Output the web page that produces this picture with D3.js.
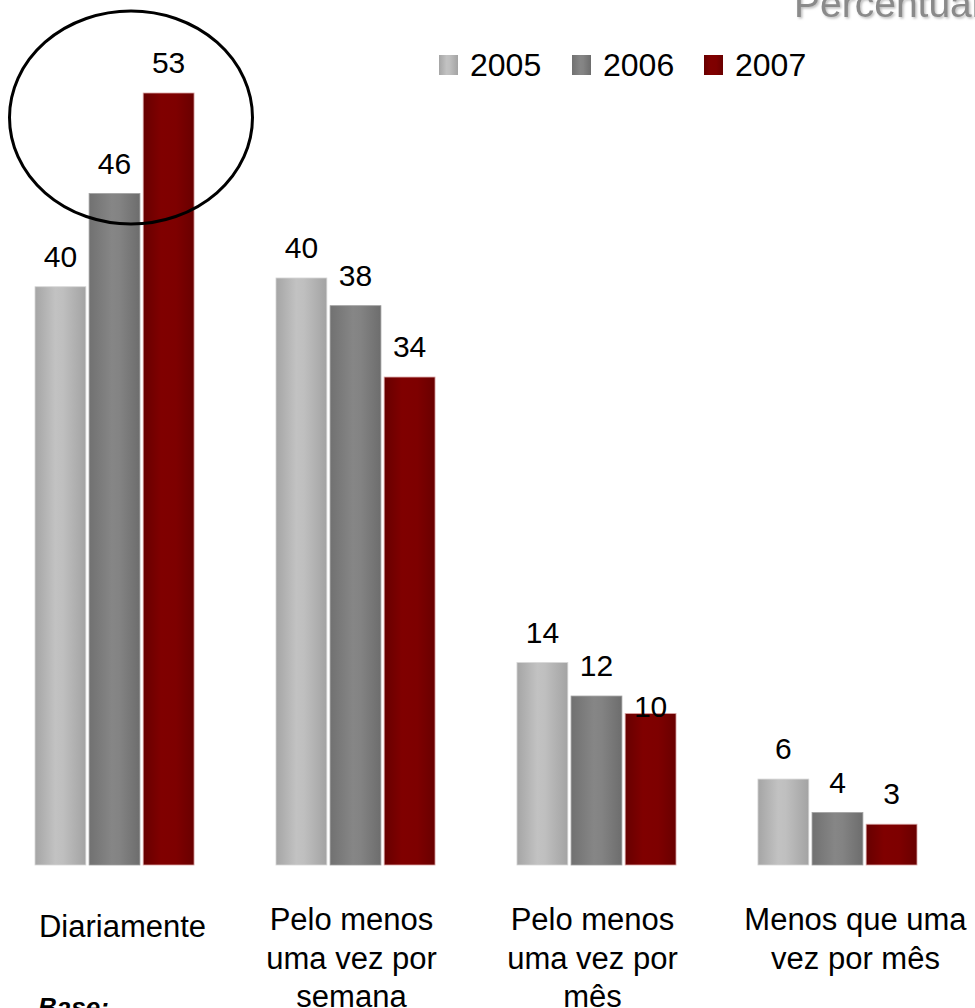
<!DOCTYPE html>
<html>
<head>
<meta charset="utf-8">
<script src="https://cdn.jsdelivr.net/npm/d3@7"></script>
<style>
  html, body { margin: 0; padding: 0; background: #fff; overflow: hidden; }
  svg { display: block; font-family: "Liberation Sans", Arial, sans-serif; }
</style>
</head>
<body>
<svg id="chart" width="975" height="1008"></svg>
<script>
// ---- data ----
const categories = ["Diariamente", "Pelo menos uma vez por semana", "Pelo menos uma vez por mês", "Menos que uma vez por mês"];
const categoryLines = [["Diariamente"], ["Pelo menos", "uma vez por", "semana"], ["Pelo menos", "uma vez por", "mês"], ["Menos que uma", "vez por mês"]];
const years = ["2005", "2006", "2007"];
const values2005 = [39.7, 40.3, 13.9, 5.9];
const values2006 = [46.1, 38.4, 11.6, 3.6];
const values2007 = [53.0, 33.5, 10.4, 2.8];
const labels2005 = ["40", "40", "14", "6"];
const labels2006 = ["46", "38", "12", "4"];
const labels2007 = ["53", "34", "10", "3"];
const titleText = "Percentual";
const footText = "Base:";

const series = [
  { year: years[0], values: values2005, labels: labels2005 },
  { year: years[1], values: values2006, labels: labels2006 },
  { year: years[2], values: values2007, labels: labels2007 }
];

const svg = d3.select("#chart");
const defs = svg.append("defs");

const gradStops = {
  "2005": [["0%", "#a5a5a5"], ["40%", "#c2c2c2"], ["55%", "#bfbfbf"], ["100%", "#a3a3a3"]],
  "2006": [["0%", "#717171"], ["45%", "#868686"], ["60%", "#838383"], ["100%", "#6d6d6d"]],
  "2007": [["0%", "#670000"], ["35%", "#800000"], ["65%", "#7e0000"], ["100%", "#690000"]]
};
const edgeColor = { "2005": "#d6d6d6", "2006": "#a0a0a0", "2007": "#d9a3a3" };

years.forEach(y => {
  const g = defs.append("linearGradient").attr("id", "g" + y)
    .attr("x1", "0").attr("x2", "1").attr("y1", "0").attr("y2", "0");
  gradStops[y].forEach(s => g.append("stop").attr("offset", s[0]).attr("stop-color", s[1]));
});

const shadow = defs.append("filter").attr("id", "tshadow").attr("x", "-5%").attr("y", "-20%").attr("width", "115%").attr("height", "150%");
shadow.append("feDropShadow").attr("dx", 1.5).attr("dy", 1.5).attr("stdDeviation", 1).attr("flood-color", "#bbbbbb");

// ---- scales ----
const baseline = 865;
const x0 = d3.scaleBand().domain(categories).range([35, 917]).paddingInner(0.34).paddingOuter(0);
const x1 = d3.scaleBand().domain(years).range([0, x0.bandwidth()]).paddingInner(0.06);
const y = d3.scaleLinear().domain([0, 53]).range([baseline, 93]);

// ---- bars ----
const groups = svg.append("g").selectAll("g.series").data(series).join("g")
  .attr("class", "series");

groups.selectAll("rect").data(s => s.values.map((v, i) => ({ v, i, year: s.year, label: s.labels[i] })))
  .join("rect")
  .attr("x", d => x0(categories[d.i]) + x1(d.year))
  .attr("y", d => y(d.v))
  .attr("width", x1.bandwidth())
  .attr("height", d => y(0) - y(d.v))
  .attr("fill", d => "url(#g" + d.year + ")")
  .attr("stroke", d => edgeColor[d.year])
  .attr("stroke-width", 0.8);

// ---- value labels ----
groups.selectAll("text").data(s => s.values.map((v, i) => ({ v, i, year: s.year, label: s.labels[i] })))
  .join("text")
  .attr("x", d => x0(categories[d.i]) + x1(d.year) + x1.bandwidth() / 2)
  // the "10" label in the reference sits lower, overlapping its bar top
  .attr("y", d => (d.year === "2007" && d.i === 2) ? y(d.v) + 3 : y(d.v) - 20)
  .attr("text-anchor", "middle")
  .attr("font-size", 30)
  .attr("fill", "#000")
  .text(d => d.label);

// ---- category labels ----
const catG = svg.append("g");
categoryLines.forEach((lines, i) => {
  const t = catG.append("text")
    .attr("x", x0(categories[i]) + x0.bandwidth() / 2 + (i === 0 ? 8 : i === 3 ? 18 : -4))
    .attr("y", lines.length === 1 ? 937 : 930)
    .attr("text-anchor", "middle")
    .attr("font-size", 31)
    .attr("fill", "#000");
  lines.forEach((ln, j) => {
    t.append("tspan").attr("x", t.attr("x")).attr("dy", j === 0 ? 0 : 38.5).text(ln);
  });
});

// ---- legend ----
const legend = svg.append("g");
const legendX = [439, 572, 704];
years.forEach((yr, i) => {
  legend.append("rect")
    .attr("x", legendX[i]).attr("y", 55)
    .attr("width", 19).attr("height", 20)
    .attr("fill", "url(#g" + yr + ")");
  legend.append("text")
    .attr("x", legendX[i] + 31).attr("y", 76)
    .attr("font-size", 32)
    .attr("fill", "#000")
    .text(yr);
});

// ---- title (clipped at top in reference) ----
svg.append("text")
  .attr("x", 794).attr("y", 17)
  .attr("font-size", 39)
  .attr("fill", "#8a8a8a")
  .attr("filter", "url(#tshadow)")
  .text(titleText);

// ---- footer ----
svg.append("text")
  .attr("x", 38).attr("y", 1016)
  .attr("font-size", 26)
  .attr("font-weight", "bold")
  .attr("font-style", "italic")
  .attr("fill", "#000")
  .text(footText);

// ---- annotation ellipse ----
svg.append("ellipse")
  .attr("cx", 131).attr("cy", 117.5)
  .attr("rx", 121.5).attr("ry", 106.5)
  .attr("fill", "none")
  .attr("stroke", "#000")
  .attr("stroke-width", 3);
</script>
</body>
</html>
